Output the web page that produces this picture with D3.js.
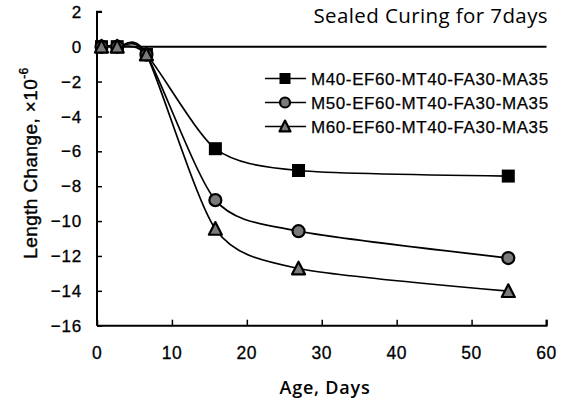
<!DOCTYPE html>
<html>
<head>
<meta charset="utf-8">
<script src="https://cdn.jsdelivr.net/npm/d3@7"></script>
<style>
  body { margin: 0; background: #fff; }
  svg { display: block; }
</style>
</head>
<body>
<div id="chart"></div>
<script>
// data
const ages = [0.6, 2.7, 6.6, 15.8, 26.9, 54.9]
const seriesNames = ["M40-EF60-MT40-FA30-MA35", "M50-EF60-MT40-FA30-MA35", "M60-EF60-MT40-FA30-MA35"]
const m40 = [0, 0, -0.45, -5.85, -7.1, -7.42]
const m50 = [0, 0, -0.45, -8.8, -10.58, -12.12]
const m60 = [0, 0, -0.45, -10.45, -12.72, -14.02]
const xTicks = [0, 10, 20, 30, 40, 50, 60]
const yTicks = [2, 0, -2, -4, -6, -8, -10, -12, -14, -16]
const symbols = ["square", "circle", "triangle"]

const width = 564, height = 405
const sans = "'Liberation Sans', Arial, sans-serif"
const humanist = "'Open Sans', sans-serif"

const svg = d3.select("#chart").append("svg")
    .attr("width", width)
    .attr("height", height)

var xScale = d3.scaleLinear().domain([0, 60]).range([97, 546.5])
var yScale = d3.scaleLinear().domain([-16, 2]).range([325.7, 11.8])

// y axis, ticks pointing inward
var yAxis = svg.append("g")
    .attr("transform", "translate(97,0)")
    .call(d3.axisRight(yScale).tickValues(yTicks).tickSize(5).tickFormat(""))
yAxis.select(".domain").attr("stroke-width", 2).attr("d", "M5,11.8H0V325.7")
yAxis.selectAll(".tick line").attr("stroke-width", 1.5)

svg.append("g").selectAll("text").data(yTicks).enter()
    .append("text")
    .attr("x", 82)
    .attr("y", d => yScale(d))
    .attr("dy", "0.36em")
    .attr("text-anchor", "end")
    .attr("font-family", sans)
    .attr("font-size", 17)
    .attr("letter-spacing", 0.8)
    .attr("stroke", "#000").attr("stroke-width", 0.3)
    .text(d => d3.format("")(d))

// x axis, ticks pointing up
var xAxis = svg.append("g")
    .attr("transform", "translate(0,325.7)")
    .call(d3.axisTop(xScale).tickValues(xTicks).tickSize(6).tickFormat(""))
xAxis.select(".domain").attr("stroke-width", 2).attr("d", "M97,0H546.5V-6")
xAxis.selectAll(".tick line").attr("stroke-width", 1.5)

svg.append("g").selectAll("text").data(xTicks).enter()
    .append("text")
    .attr("x", d => xScale(d))
    .attr("y", 359)
    .attr("text-anchor", "middle")
    .attr("font-family", sans)
    .attr("font-size", 17.5)
    .attr("letter-spacing", 0.5)
    .attr("stroke", "#000").attr("stroke-width", 0.3)
    .text(d => d)

// zero line
svg.append("line")
    .attr("x1", xScale(0)).attr("x2", xScale(60))
    .attr("y1", yScale(0)).attr("y2", yScale(0))
    .attr("stroke", "#000")
    .attr("stroke-width", 2)

// series lines
var line = d3.line()
    .x((d, i) => xScale(ages[i]))
    .y(d => yScale(d))
    .curve(d3.curveCardinal.tension(0.25))

var allSeries = [m40, m50, m60]
var plot = svg.append("g")
allSeries.forEach(function(vals, s) {
    plot.append("path")
        .datum(vals)
        .attr("d", line)
        .attr("fill", "none")
        .attr("stroke", "#000")
        .attr("stroke-width", 1.7)
})

function drawMarker(g, type, x, y, size) {
    if (type === "square") {
        g.append("rect")
            .attr("x", x - size / 2).attr("y", y - size / 2)
            .attr("width", size).attr("height", size)
            .attr("fill", "#000")
    } else if (type === "circle") {
        g.append("circle")
            .attr("cx", x).attr("cy", y).attr("r", size / 2 - 0.5)
            .attr("fill", "#7a7a7a")
            .attr("stroke", "#000")
            .attr("stroke-width", 2.2)
    } else {
        var h = size * 0.9
        g.append("path")
            .attr("d", `M${x},${y - h / 2 - 1}L${x + size / 2},${y + h / 2}L${x - size / 2},${y + h / 2}Z`)
            .attr("fill", "#7a7a7a")
            .attr("stroke", "#000")
            .attr("stroke-width", 2.2)
            .attr("stroke-linejoin", "round")
    }
}

var markers = svg.append("g")
allSeries.forEach(function(vals, s) {
    vals.forEach(function(v, i) {
        drawMarker(markers, symbols[s], xScale(ages[i]), yScale(v), 13)
    })
})

// legend
var legend = svg.append("g")
seriesNames.forEach(function(name, i) {
    var y = 78.5 + i * 24
    legend.append("line")
        .attr("x1", 265).attr("x2", 306)
        .attr("y1", y).attr("y2", y)
        .attr("stroke", "#000").attr("stroke-width", 1.7)
    drawMarker(legend, symbols[i], 285, y, 11)
    legend.append("text")
        .attr("x", 311)
        .attr("y", y)
        .attr("dy", "0.36em")
        .attr("font-family", sans)
        .attr("font-size", 17)
        .attr("letter-spacing", 0.6)
        .attr("stroke", "#000").attr("stroke-width", 0.25)
        .text(name)
})

// titles
svg.append("text")
    .attr("x", 548)
    .attr("y", 23)
    .attr("text-anchor", "end")
    .attr("font-family", humanist)
    .attr("font-size", 20.5)
    .attr("font-weight", 500)
    .attr("letter-spacing", 0.4)
    .text("Sealed Curing for 7days")

svg.append("text")
    .attr("x", 325)
    .attr("y", 394)
    .attr("text-anchor", "middle")
    .attr("font-family", humanist)
    .attr("font-size", 18)
    .attr("font-weight", 600)
    .attr("letter-spacing", 0.8)
    .text("Age, Days")

var yTitle = svg.append("text")
    .attr("transform", "translate(37,163) rotate(-90)")
    .attr("text-anchor", "middle")
    .attr("font-family", sans)
    .attr("font-size", 19)
    .attr("letter-spacing", 0.4)
    .attr("stroke", "#000").attr("stroke-width", 0.4)
yTitle.append("tspan").text("Length Change, \u00d710")
yTitle.append("tspan").attr("dy", -9).attr("font-size", 12).text("-6")
</script>
</body>
</html>
